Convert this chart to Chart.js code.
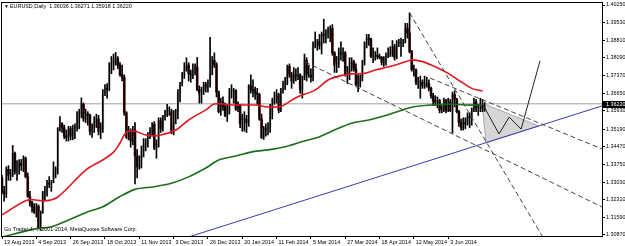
<!DOCTYPE html>
<html>
<head>
<meta charset="utf-8">
<script src="https://cdn.jsdelivr.net/npm/chart.js@4.4.1/dist/chart.umd.min.js"></script>
<style>
  html, body { margin: 0; padding: 0; background: #fff; }
  #wrap { width: 625px; height: 246px; }
</style>
</head>
<body>
<div id="wrap"><canvas id="chart" width="625" height="246"></canvas></div>
<script>
// EURUSD daily, 13 Aug 2013 .. end of Jun 2014 (bar index = trading day)
const dateIdx = [0, 16, 32, 48, 64, 80, 96, 112, 128, 144, 160, 176, 192, 208];
const dateLabels = ['13 Aug 2013', '4 Sep 2013', '26 Sep 2013', '18 Oct 2013', '11 Nov 2013', '3 Dec 2013',
  '26 Dec 2013', '20 Jan 2014', '11 Feb 2014', '5 Mar 2014', '27 Mar 2014', '18 Apr 2014', '12 May 2014', '3 Jun 2014'];
const priceTicks = [1.40250, 1.39530, 1.38810, 1.38090, 1.37370, 1.36650, 1.35930, 1.35190,
  1.34470, 1.33750, 1.33030, 1.32310, 1.31590, 1.30870];

const opens = [
  1.3320,1.3265,1.3255,1.3355,1.3330,1.3330,1.3420,1.3345,1.3360,1.3380,
  1.3370,1.3400,1.3325,1.3245,1.3220,1.3200,1.3180,1.3205,1.3120,1.3180,
  1.3260,1.3265,1.3300,1.3295,1.3300,1.3340,1.3355,1.3520,1.3540,1.3525,
  1.3490,1.3485,1.3520,1.3490,1.3520,1.3525,1.3580,1.3585,1.3620,1.3560,
  1.3580,1.3575,1.3510,1.3530,1.3550,1.3560,1.3510,1.3520,1.3670,1.3685,
  1.3680,1.3780,1.3780,1.3800,1.3805,1.3780,1.3740,1.3730,1.3585,1.3485,
  1.3510,1.3470,1.3515,1.3410,1.3365,1.3390,1.3430,1.3460,1.3460,1.3500,
  1.3510,1.3540,1.3440,1.3450,1.3555,1.3520,1.3570,1.3580,1.3590,1.3590,
  1.3505,1.3590,1.3590,1.3665,1.3705,1.3740,1.3760,1.3780,1.3745,1.3740,
  1.3760,1.3770,1.3680,1.3665,1.3675,1.3700,1.3690,1.3700,1.3745,1.3800,
  1.3780,1.3670,1.3590,1.3630,1.3610,1.3575,1.3590,1.3670,1.3670,1.3675,
  1.3600,1.3615,1.3540,1.3555,1.3560,1.3545,1.3695,1.3680,1.3675,1.3665,
  1.3660,1.3560,1.3485,1.3520,1.3515,1.3525,1.3590,1.3635,1.3640,1.3660,
  1.3595,1.3680,1.3690,1.3710,1.3775,1.3740,1.3715,1.3740,1.3735,1.3740,
  1.3680,1.3730,1.3800,1.3740,1.3740,1.3730,1.3865,1.3875,1.3875,1.3860,
  1.3905,1.3900,1.3910,1.3925,1.3930,1.3830,1.3780,1.3790,1.3830,1.3825,
  1.3830,1.3740,1.3750,1.3770,1.3795,1.3765,1.3700,1.3700,1.3730,1.3790,
  1.3870,1.3890,1.3885,1.3815,1.3815,1.3820,1.3815,1.3810,1.3790,1.3800,
  1.3815,1.3825,1.3830,1.3855,1.3810,1.3870,1.3870,1.3870,1.3875,1.3930,
  1.3910,1.3835,1.3760,1.3760,1.3710,1.3710,1.3710,1.3695,1.3705,1.3705,
  1.3685,1.3655,1.3635,1.3630,1.3635,1.3595,1.3595,1.3635,1.3595,1.3630,
  1.3595,1.3660,1.3640,1.3590,1.3545,1.3525,1.3545,1.3540,1.3570,1.3565,
  1.3600,1.3630,1.3605,1.3605,1.3610,1.36036
];
const highs = [
  1.3330,1.3285,1.3365,1.3370,1.3355,1.3452,1.3425,1.3390,1.3395,1.3395,
  1.3410,1.3405,1.3340,1.3265,1.3225,1.3215,1.3215,1.3210,1.3185,1.3265,
  1.3285,1.3310,1.3325,1.3310,1.3385,1.3365,1.3525,1.3570,1.3545,1.3535,
  1.3515,1.3530,1.3530,1.3535,1.3540,1.3590,1.3600,1.3646,1.3625,1.3600,
  1.3590,1.3580,1.3540,1.3570,1.3580,1.3575,1.3545,1.3680,1.3700,1.3705,
  1.3790,1.3815,1.3825,1.3832,1.3815,1.3790,1.3780,1.3740,1.3590,1.3530,
  1.3520,1.3530,1.3545,1.3435,1.3410,1.3450,1.3480,1.3480,1.3505,1.3525,
  1.3545,1.3550,1.3475,1.3565,1.3565,1.3575,1.3595,1.3620,1.3610,1.3600,
  1.3595,1.3600,1.3680,1.3710,1.3750,1.3790,1.3810,1.3790,1.3760,1.3785,
  1.3785,1.3811,1.3695,1.3690,1.3710,1.3710,1.3720,1.3893,1.3815,1.3830,
  1.3790,1.3675,1.3645,1.3650,1.3625,1.3620,1.3685,1.3700,1.3685,1.3680,
  1.3630,1.3620,1.3580,1.3590,1.3575,1.3700,1.3740,1.3720,1.3690,1.3685,
  1.3665,1.3580,1.3530,1.3540,1.3545,1.3620,1.3645,1.3670,1.3680,1.3665,
  1.3685,1.3715,1.3730,1.3780,1.3785,1.3750,1.3770,1.3765,1.3770,1.3745,
  1.3735,1.3825,1.3810,1.3780,1.3765,1.3875,1.3915,1.3885,1.3905,1.3915,
  1.3967,1.3925,1.3935,1.3940,1.3945,1.3835,1.3815,1.3850,1.3875,1.3850,
  1.3835,1.3775,1.3810,1.3810,1.3800,1.3785,1.3740,1.3740,1.3800,1.3875,
  1.3905,1.3905,1.3890,1.3850,1.3835,1.3850,1.3825,1.3815,1.3815,1.3830,
  1.3850,1.3855,1.3880,1.3865,1.3880,1.3885,1.3890,1.3885,1.3950,1.3950,
  1.3993,1.3840,1.3780,1.3765,1.3730,1.3735,1.3720,1.3735,1.3730,1.3720,
  1.3690,1.3665,1.3655,1.3650,1.3640,1.3615,1.3645,1.3640,1.3645,1.3640,
  1.3670,1.3675,1.3645,1.3595,1.3560,1.3565,1.3565,1.3585,1.3585,1.3605,
  1.3645,1.3640,1.3620,1.3645,1.3640,1.36271
];
const lows = [
  1.3255,1.3225,1.3240,1.3310,1.3310,1.3325,1.3335,1.3310,1.3335,1.3350,
  1.3345,1.3320,1.3240,1.3205,1.3180,1.3175,1.3160,1.3115,1.3105,1.3175,
  1.3230,1.3245,1.3280,1.3265,1.3300,1.3320,1.3335,1.3510,1.3505,1.3480,
  1.3470,1.3470,1.3475,1.3475,1.3480,1.3510,1.3520,1.3565,1.3550,1.3545,
  1.3535,1.3495,1.3485,1.3505,1.3525,1.3495,1.3480,1.3505,1.3655,1.3645,
  1.3675,1.3745,1.3760,1.3780,1.3765,1.3735,1.3715,1.3575,1.3480,1.3475,
  1.3445,1.3455,1.3295,1.3320,1.3355,1.3360,1.3405,1.3430,1.3445,1.3480,
  1.3490,1.3435,1.3400,1.3445,1.3505,1.3510,1.3555,1.3570,1.3575,1.3500,
  1.3495,1.3540,1.3560,1.3630,1.3695,1.3725,1.3755,1.3715,1.3710,1.3725,
  1.3740,1.3675,1.3625,1.3625,1.3660,1.3670,1.3670,1.3690,1.3740,1.3770,
  1.3650,1.3585,1.3575,1.3595,1.3570,1.3550,1.3580,1.3645,1.3625,1.3595,
  1.3590,1.3525,1.3510,1.3510,1.3505,1.3530,1.3665,1.3650,1.3640,1.3620,
  1.3555,1.3480,1.3477,1.3490,1.3495,1.3505,1.3560,1.3620,1.3625,1.3585,
  1.3590,1.3665,1.3680,1.3700,1.3730,1.3685,1.3705,1.3715,1.3720,1.3665,
  1.3645,1.3720,1.3715,1.3730,1.3710,1.3715,1.3850,1.3840,1.3845,1.3825,
  1.3870,1.3870,1.3890,1.3875,1.3820,1.3750,1.3750,1.3770,1.3800,1.3795,
  1.3735,1.3705,1.3720,1.3755,1.3755,1.3695,1.3672,1.3690,1.3715,1.3780,
  1.3850,1.3860,1.3810,1.3790,1.3800,1.3805,1.3805,1.3780,1.3775,1.3780,
  1.3810,1.3815,1.3815,1.3800,1.3805,1.3855,1.3815,1.3855,1.3870,1.3890,
  1.3830,1.3755,1.3735,1.3700,1.3685,1.3645,1.3685,1.3685,1.3690,1.3675,
  1.3645,1.3615,1.3615,1.3605,1.3585,1.3585,1.3590,1.3585,1.3590,1.3590,
  1.3503,1.3610,1.3585,1.3530,1.3515,1.3515,1.3520,1.3535,1.3525,1.3535,
  1.3590,1.3590,1.3575,1.3590,1.3590,1.35918
];
const closes = [
  1.3265,1.3255,1.3355,1.3330,1.3330,1.3420,1.3345,1.3360,1.3380,1.3370,
  1.3400,1.3325,1.3245,1.3220,1.3200,1.3180,1.3205,1.3120,1.3180,1.3260,
  1.3265,1.3300,1.3295,1.3300,1.3340,1.3355,1.3520,1.3540,1.3525,1.3490,
  1.3485,1.3520,1.3490,1.3520,1.3525,1.3580,1.3585,1.3620,1.3560,1.3580,
  1.3575,1.3510,1.3530,1.3550,1.3560,1.3510,1.3520,1.3670,1.3685,1.3680,
  1.3780,1.3780,1.3800,1.3805,1.3780,1.3740,1.3730,1.3585,1.3485,1.3510,
  1.3470,1.3515,1.3410,1.3365,1.3390,1.3430,1.3460,1.3460,1.3500,1.3510,
  1.3540,1.3440,1.3450,1.3555,1.3520,1.3570,1.3580,1.3590,1.3590,1.3505,
  1.3590,1.3590,1.3665,1.3705,1.3740,1.3760,1.3780,1.3745,1.3740,1.3760,
  1.3770,1.3680,1.3665,1.3675,1.3700,1.3690,1.3700,1.3745,1.3800,1.3780,
  1.3670,1.3590,1.3630,1.3610,1.3575,1.3590,1.3670,1.3670,1.3675,1.3600,
  1.3615,1.3540,1.3555,1.3560,1.3545,1.3695,1.3680,1.3675,1.3665,1.3660,
  1.3560,1.3485,1.3520,1.3515,1.3525,1.3590,1.3635,1.3640,1.3660,1.3595,
  1.3680,1.3690,1.3710,1.3775,1.3740,1.3715,1.3740,1.3735,1.3740,1.3680,
  1.3730,1.3800,1.3740,1.3740,1.3730,1.3865,1.3875,1.3875,1.3860,1.3905,
  1.3900,1.3910,1.3925,1.3930,1.3830,1.3780,1.3790,1.3830,1.3825,1.3830,
  1.3740,1.3750,1.3770,1.3795,1.3765,1.3700,1.3700,1.3730,1.3790,1.3870,
  1.3890,1.3885,1.3815,1.3815,1.3820,1.3815,1.3810,1.3790,1.3800,1.3815,
  1.3825,1.3830,1.3855,1.3810,1.3870,1.3870,1.3870,1.3875,1.3930,1.3910,
  1.3835,1.3760,1.3760,1.3710,1.3710,1.3710,1.3695,1.3705,1.3705,1.3685,
  1.3655,1.3635,1.3630,1.3635,1.3595,1.3595,1.3635,1.3595,1.3630,1.3595,
  1.3660,1.3640,1.3590,1.3545,1.3525,1.3545,1.3540,1.3570,1.3565,1.3600,
  1.3630,1.3605,1.3605,1.3610,1.3604,1.36220
];

// moving averages: [bar index, price]
const redMa = [[0,1.3169],[12,1.3230],[20,1.3226],[26,1.3242],[39,1.3352],[47,1.3393],[52,1.3425],[55,1.3462],
  [58,1.3507],[62,1.3510],[67,1.3495],[73,1.3493],[81,1.3515],[87,1.3556],[95,1.3597],[99,1.3621],[109,1.3617],
  [118,1.3617],[124,1.3609],[130,1.3611],[134,1.3631],[138,1.3651],[146,1.3678],[152,1.3719],[157,1.3735],
  [163,1.3744],[169,1.3746],[174,1.3760],[180,1.3772],[186,1.3787],[191,1.3801],[196,1.3794],[202,1.3773],
  [208,1.3746],[214,1.3712],[219,1.3685],[224,1.3674]];
const greenMa = [[0,1.3079],[15,1.3111],[23,1.3121],[31,1.3148],[39,1.3178],[47,1.3202],[55,1.3244],[62,1.3273],
  [71,1.3284],[79,1.3298],[87,1.3324],[95,1.3360],[101,1.3393],[109,1.3409],[117,1.3427],[124,1.3434],
  [132,1.3447],[140,1.3468],[148,1.3488],[155,1.3515],[163,1.3543],[171,1.3556],[178,1.3572],[186,1.3595],
  [192,1.3610],[200,1.3617],[208,1.3621],[216,1.3617],[224,1.3617]];

// drawn objects: [bar index, price]
const trendSteep = [[190, 1.3993], [252, 1.3080]];
const trendUpper = [[199.5, 1.3727], [280, 1.3437]];
const trendLower = [[141.3, 1.3793], [280, 1.3200]];
const blueLine = [[85, 1.30735], [280, 1.36143]];
const triangle = [[223.8, 1.3625], [225.6, 1.3463], [250.3, 1.35315], [223.8, 1.3625]];
const zigzag = [[223.8, 1.3625], [231.7, 1.3499], [236.4, 1.3568], [242.0, 1.3519], [250.8, 1.3797]];

const lastBar = { open: 1.36036, high: 1.36271, low: 1.35918, close: 1.36220 };

const FONT = '"Liberation Sans", Arial, "DejaVu Sans", sans-serif';
const upColor = '#d2d2d2';
const downColor = '#6a1010';

const toXY = arr => arr.map(p => ({ x: p[0], y: p[1] }));
const idx = opens.map((_, i) => i);
const wickData = idx.map(i => ({ x: i, y: [lows[i], highs[i]] }));
const bodyData = idx.map(i => ({ x: i, y: [Math.min(opens[i], closes[i]), Math.max(opens[i], closes[i])] }));
const bodyColors = idx.map(i => closes[i] >= opens[i] ? upColor : downColor);

const overlay = {
  id: 'overlay',
  afterDraw(chart) {
    const { ctx, chartArea: a, scales } = chart;
    ctx.save();
    ctx.strokeStyle = '#000';
    ctx.lineWidth = 1;
    ctx.strokeRect(a.left - 0.5, a.top - 0.5, a.right - a.left + 1, a.bottom - a.top + 1);

    ctx.fillStyle = '#000';
    ctx.textBaseline = 'middle';
    ctx.font = '5px ' + FONT;
    ctx.fillText('\u25BC', 4, 7);
    ctx.font = '5.4px ' + FONT;
    ctx.fillText('EURUSD,Daily  ' + [lastBar.open, lastBar.high, lastBar.low, lastBar.close]
      .map(v => v.toFixed(5)).join(' '), 10, 7);
    ctx.fillText('Go Trader 4, \u00A9 2001-2014, MetaQuotes Software Corp.', 4, 230);

    // current price marker on the axis
    const y = Math.round(scales.y.getPixelForValue(lastBar.close));
    ctx.fillRect(a.right + 1, y - 3, 24, 7);
    ctx.fillStyle = '#fff';
    ctx.fillText(lastBar.close.toFixed(5), a.right + 4, y + 0.5);
    ctx.restore();
  }
};

const dashed = (data, order) => ({
  type: 'line', data: toXY(data), borderColor: '#444', borderWidth: 1, borderDash: [5, 3],
  pointRadius: 0, fill: false, tension: 0, order
});

new Chart(document.getElementById('chart'), {
  type: 'bar',
  data: {
    datasets: [
      { type: 'line', data: [{ x: 0, y: lastBar.close }, { x: 280, y: lastBar.close }], borderColor: '#a0a0a0',
        borderWidth: 1, pointRadius: 0, order: 12 },
      { type: 'line', data: toXY(triangle), borderColor: '#a8a8a8', borderWidth: 1, backgroundColor: '#d6d6d6',
        fill: 'shape', pointRadius: 0, tension: 0, order: 11 },
      { type: 'bar', data: bodyData, backgroundColor: bodyColors, barThickness: 2, minBarLength: 1,
        grouped: false, order: 10 },
      { type: 'bar', data: wickData, backgroundColor: '#000', barThickness: 1, grouped: false, order: 9 },
      { type: 'line', data: toXY(greenMa), borderColor: '#1c6e1c', borderWidth: 1.6, pointRadius: 0, tension: 0.3, order: 6 },
      { type: 'line', data: toXY(redMa), borderColor: '#e3161f', borderWidth: 1.6, pointRadius: 0, tension: 0.3, order: 5 },
      { type: 'line', data: toXY(blueLine), borderColor: '#3b3bb0', borderWidth: 1, pointRadius: 0, order: 4 },
      dashed(trendSteep, 3),
      dashed(trendUpper, 3),
      dashed(trendLower, 3),
      { type: 'line', data: toXY(zigzag), borderColor: '#222', borderWidth: 1, pointRadius: 0, tension: 0, order: 2 }
    ]
  },
  options: {
    responsive: false,
    animation: false,
    layout: { padding: { top: 3, left: 2, right: 0, bottom: 0 } },
    plugins: { legend: { display: false }, tooltip: { enabled: false } },
    scales: {
      x: {
        type: 'linear', min: 0, max: 279.7, offset: false,
        grid: { drawOnChartArea: false, offset: false, color: '#000', tickLength: 3 },
        border: { color: '#000' },
        afterBuildTicks: s => { s.ticks = dateIdx.map(v => ({ value: v })); },
        afterFit: s => { s.height = 10; s.paddingLeft = 0; s.paddingRight = 0; },
        ticks: {
          autoSkip: false, maxRotation: 0, align: 'start', labelOffset: 2, padding: 0,
          color: '#000', font: { family: FONT, size: 5.4 },
          callback: v => dateLabels[dateIdx.indexOf(v)] || ''
        }
      },
      y: {
        type: 'linear', position: 'right', min: 1.308290, max: 1.403316,
        grid: { drawOnChartArea: false, color: '#000', tickLength: 3 },
        border: { color: '#000' },
        afterBuildTicks: s => { s.ticks = priceTicks.map(v => ({ value: v })); },
        afterFit: s => { s.width = 23; s.paddingTop = 0; s.paddingBottom = 0; },
        ticks: {
          padding: 1, color: '#000', font: { family: FONT, size: 5.4 },
          callback: v => Number(v).toFixed(5)
        }
      }
    }
  },
  plugins: [overlay]
});
</script>
</body>
</html>
